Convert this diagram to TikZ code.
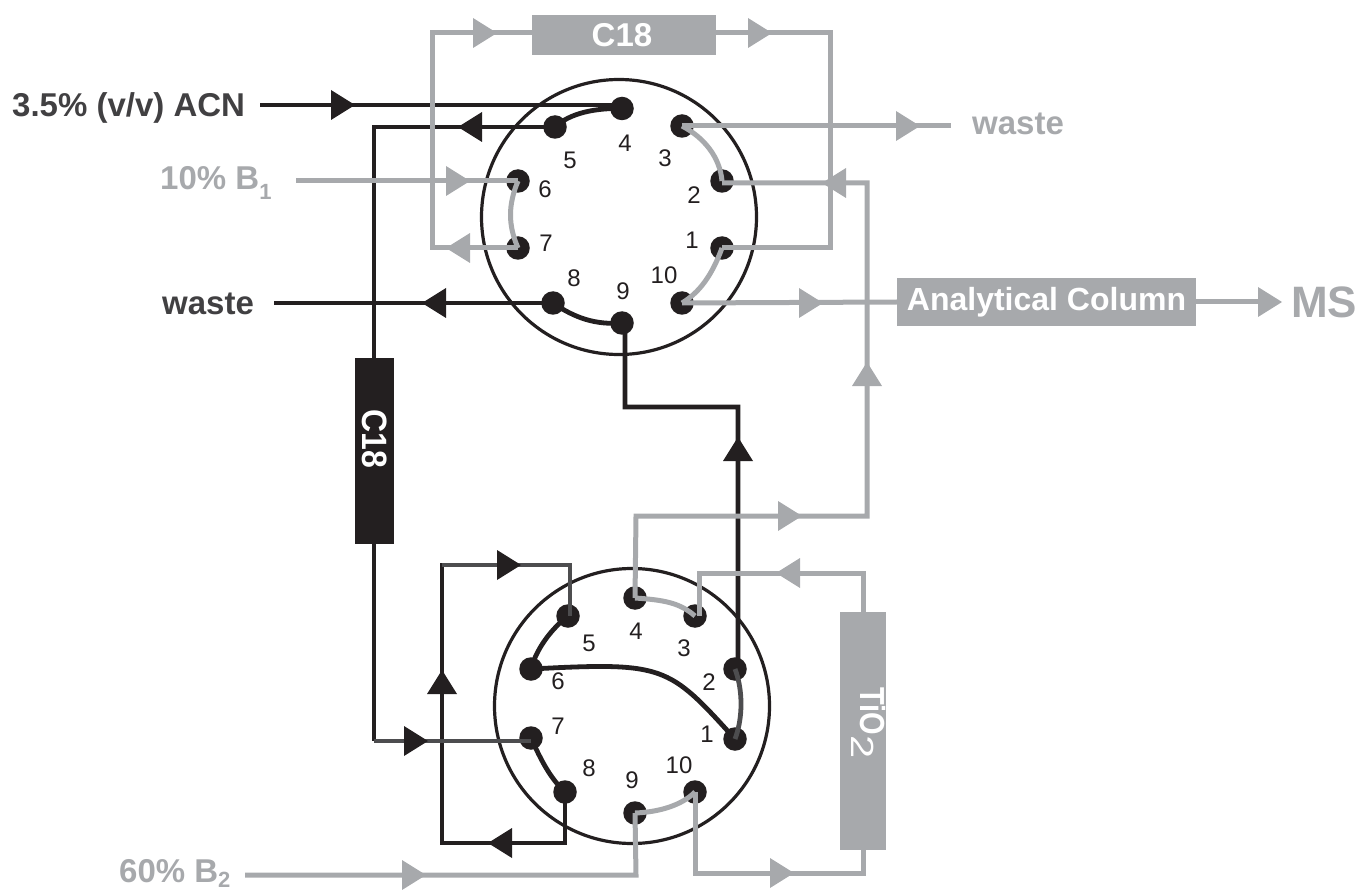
\documentclass[tikz,border=0pt]{standalone}
\usepackage{fontspec}
\setmainfont{Liberation Sans}
\definecolor{gl}{HTML}{A7A9AC}
\definecolor{bk}{HTML}{231F20}
\definecolor{dg}{HTML}{4D4D4F}
\definecolor{tx}{HTML}{414042}
\newcommand{\fs}[1]{\fontsize{#1}{#1}\selectfont}
\newcommand{\tipR}[3]{\fill[#1] (#2-12,#3-15) -- (#2+12,#3) -- (#2-12,#3+15) -- cycle;}
\newcommand{\tipL}[3]{\fill[#1] (#2+12,#3-15) -- (#2-12,#3) -- (#2+12,#3+15) -- cycle;}
\newcommand{\tipU}[3]{\fill[#1] (#2-15,#3+12) -- (#2,#3-12) -- (#2+15,#3+12) -- cycle;}
\tikzset{
  valve/.style={circle,draw=bk,line width=3.2pt,fill=white,minimum size=278pt-3pt,inner sep=0pt},
  port/.style={circle,fill=bk,minimum size=23.5pt,inner sep=0pt},
  num/.style={font=\fs{24},text=bk,inner sep=0pt},
  gline/.style={draw=gl,line width=5pt,line join=miter},
  bline/.style={draw=bk,line width=4.8pt,line join=miter},
  dline/.style={draw=dg,line width=4.8pt,line join=miter},
  gbox/.style={fill=gl,text=white,font=\bfseries\fs{33},inner sep=0pt},
  lbl/.style={font=\bfseries\fs{33},inner sep=0pt,anchor=base west},
}
\begin{document}
\begin{tikzpicture}[x=1pt,y=-1pt]
\useasboundingbox (0,0) rectangle (1359,890);
% valves
\node[valve] (V1) at (619,217) {};
\node[valve] (V2) at (632,706) {};
% boxes
\node[gbox,minimum width=184pt,minimum height=40pt] (C18a) at (624,35) {C18\hspace*{4pt}};
\node[gbox,minimum width=299pt,minimum height=48pt] (AC) at (1046.5,302) {\fs{32}Analytical Column};
\node[gbox,fill=bk,rotate=-90,minimum width=186pt,minimum height=39pt] (C18b) at (374.5,451) {\fs{32}\scalebox{1}[1.1]{C18}\hspace*{24pt}};
\node[gbox,minimum width=238pt,minimum height=46pt,rotate=-90] (TiO) at (863,731) {\smash{\raisebox{-3pt}{\fs{29}\scalebox{1}[1.2]{TiO}\raisebox{-9pt}{\scalebox{1.3}[1]{\fs{32}\mdseries 2}}}}\hspace*{16pt}};
% ports
\foreach \n/\x/\y in {4/622/108.5,5/555/127,6/518/181,7/518/248,8/553/303,9/622/323,10/682/303,1/722/248,2/722/181,3/682/126}
  \node[port] (t\n) at (\x,\y) {};
\foreach \n/\x/\y in {4/635/598,3/695/616,2/735/669,1/735/739,10/695/792,9/635/813,8/565/792,7/531/738,6/531/669,5/568/616}
  \node[port] (b\n) at (\x,\y) {};
% numbers
\foreach \n/\x/\y in {4/625/143,5/570/160,3/665/158,6/545/189,2/694/195,7/546/243,1/692/240,8/574/278,9/623/291,10/664/275}
  \node[num] (nt\n) at (\x,\y) {\n};
\foreach \n/\x/\y in {5/589/643,4/636/631,3/684/648,6/558/681,2/709/682,7/558/726,1/707/734,8/589/768,9/632/780,10/679/765}
  \node[num] (nb\n) at (\x,\y) {\n};
% labels
\node[lbl,text=tx] (lacn) at (12,117) {3.5\% (v/v) ACN};
\node[lbl,text=gl] (lb1) at (160,190) {10\% B\raisebox{-10pt}{\fs{22}1}};
\node[lbl,text=tx] (lw1) at (162,315) {waste};
\node[lbl,text=gl] (lw2) at (972,135) {waste};
\node[lbl,text=gl,font=\bfseries\fs{44}] (lms) at (1291,318) {MS};
\node[lbl,text=gl] (lb2) at (119,882) {60\% B\raisebox{-5pt}{\fs{22}2}};
% free ends
\coordinate (acnS) at (260,105);
\coordinate (w1E) at (274,303);
\coordinate (b1S) at (296,181);
\coordinate (w2E) at (951,126);
\coordinate (msE) at (1258,302);
\coordinate (b2S) at (245,875);
% black connectors
\draw[bline] (acnS) -- (t4.center |- acnS) -- (t4.center);
\draw[bline] (t5.center) -- (374,127) -- (374,358);
\draw[bline] (374,544) -- (374,741);
\draw[bline] (t8.center) -- (w1E);
\draw[bline] (t9.center) -- (625,330) -- (625,407) -- (738,407) -- (738,660);
\draw[bline] (b7.center) ..controls (541,760) and (550,778).. (b8.center);
\draw[bline] (b5.center) ..controls (550,630) and (536,650).. (b6.center);
\draw[bline] (b6.center) ..controls (665,662) and (668,665).. (b1.center);
\draw[bline] (t4.center) ..controls (595,108) and (570,113).. (t5.center);
\draw[bline] (t8.center) ..controls (575,318) and (595,325).. (t9.center);
\draw[bline] (b8.center) -- (565,843) -- (442,843) -- (442,565) -- (505,565);
\draw[dline] (442,565) -- (570,565) -- (570,616);
\draw[dline] (374,741) -- (b7.center |- 0,741);
\draw[dline] (b2.center) ..controls (743,690) and (743,718).. (b1.center);
% gray connectors
\draw[gline] (t7.center) -- (432,248) -- (432,33) -- (532,33);
\draw[gline] (716,33) -- (830,33) -- (830,248) -- (t1.center);
\draw[gline] (b1S) -- (t6.center);
\draw[gline] (t3.center) -- (w2E);
\draw[gline] (t2.center |- 0,183) -- (867,183) -- (867,516) -- (636,516) -- (b4.center);
\draw[gline] (t10.center) -- (AC.west);
\draw[gline] (AC.east) -- (msE);
\draw[gline] (t3.center) ..controls (705,138) and (720,158).. (t2.center);
\draw[gline] (t6.center) ..controls (508,205) and (508,225).. (t7.center);
\draw[gline] (t1.center) ..controls (712,275) and (700,292).. (t10.center);
\draw[gline] (b2S) -- (636,875) -- (b9.center);
\draw[gline] (b10.center) -- (695,873) -- (863,873) -- (TiO.east);
\draw[gline] (TiO.west) -- (863,573) -- (699,573) -- (699,616);
\draw[gline] (b4.center) ..controls (665,600) and (680,603).. (b3.center);
\draw[gline] (b9.center) ..controls (660,812) and (682,805).. (b10.center);
% arrowheads
\tipR{bk}{343}{105}
\tipL{bk}{470}{127}
\tipL{bk}{434}{303}
\tipU{bk}{738}{449}
\tipR{bk}{416}{741}
\tipU{bk}{442}{682}
\tipR{bk}{509}{565}
\tipL{bk}{500}{843}
\tipR{gl}{485}{33}
\tipR{gl}{760}{33}
\tipR{gl}{458}{181}
\tipL{gl}{458}{248}
\tipR{gl}{908}{126}
\tipL{gl}{834}{183}
\tipR{gl}{811}{303}
\tipR{gl}{1270}{302}
\tipU{gl}{867}{374}
\tipR{gl}{790}{516}
\tipL{gl}{788}{573}
\tipR{gl}{414}{875}
\tipR{gl}{782}{873}
\end{tikzpicture}
\end{document}
